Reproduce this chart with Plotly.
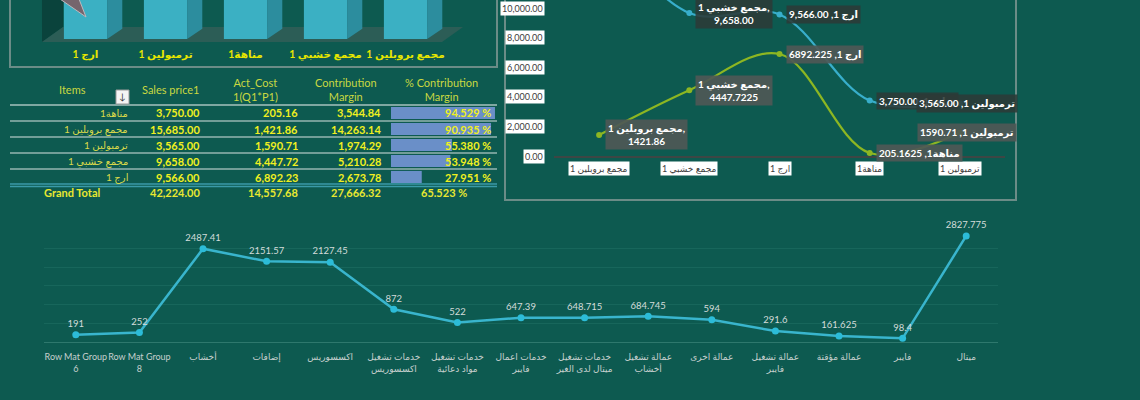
import plotly.graph_objects as go

W, H = 1140, 400
BG = "#0D5A50"
FONT = "Lato, 'Open Sans', 'DejaVu Sans', sans-serif"

# ---------------- data ----------------
bar3d_categories = ["ارج 1", "ترمبولين 1", "مناهة1", "مجمع خشبي 1", "مجمع بروبلين 1"]
bar3d_values = [9566.00, 3565.00, 3750.00, 9658.00, 15685.00]

table_headers = ["Items", "Sales price1", "Act_Cost<br>1(Q1*P1)",
                 "Contribution<br>Margin", "% Contribution<br>Margin"]
table_items = ["مناهة1", "مجمع بروبلين 1", "ترمبولين 1", "مجمع خشبي 1", "ارج 1"]
table_sales_price = [3750.00, 15685.00, 3565.00, 9658.00, 9566.00]
table_act_cost = [205.16, 1421.86, 1590.71, 4447.72, 6892.23]
table_contribution = [3544.84, 14263.14, 1974.29, 5210.28, 2673.78]
table_pct_contribution = [94.529, 90.935, 55.380, 53.948, 27.951]
total_label = "Grand Total"
total_sales_price = 42224.00
total_act_cost = 14557.68
total_contribution = 27666.32
total_pct_contribution = 65.523

line_categories = ["مجمع بروبلين 1", "مجمع خشبي 1", "ارج 1", "مناهة1", "ترمبولين 1"]
line_sales_price = [15685.00, 9658.00, 9566.00, 3750.00, 3565.00]
line_act_cost = [1421.86, 4447.7225, 6892.225, 205.1625, 1590.71]
line_y_ticks = [0, 2000, 4000, 6000, 8000, 10000]

group_labels = ["Row Mat Group<br>6", "Row Mat Group<br>8", "أخشاب", "إضافات", "اكسسوريس",
                "خدمات تشغيل<br>اكسسوريس", "خدمات تشغيل<br>مواد دعائية", "خدمات اعمال<br>فايبر",
                "خدمات تشغيل<br>ميتال لدى الغير", "عمالة تشغيل<br>أخشاب", "عمالة اخرى",
                "عمالة تشغيل<br>فايبر", "عمالة مؤقتة", "فايبر", "ميتال"]
group_values = [191, 252, 2487.41, 2151.57, 2127.45, 872, 522, 647.39, 648.715,
                684.745, 594, 291.6, 161.625, 98.4, 2827.775]


# ---------------- helpers ----------------
def X(px):
    return px / W


def Y(py):
    return 1 - py / H


def path_px(points):
    return "M " + " L ".join(f"{X(a):.5f},{Y(b):.5f}" for a, b in points) + " Z"


fig = go.Figure()

# ---------------- bottom line chart ----------------
gx = list(range(len(group_values)))
fig.add_trace(go.Scatter(
    x=gx, y=group_values, mode="lines+markers+text",
    text=[f"{v:.10g}" for v in group_values], textposition="top center",
    textfont=dict(color="#D3DCDA", size=9.5, family=FONT),
    line=dict(color="#39B5CD", width=2.5), marker=dict(color="#2CBCD8", size=7),
    xaxis="x", yaxis="y", cliponaxis=False, hoverinfo="skip", showlegend=False))

# ---------------- top-right line chart ----------------
lx = list(range(len(line_categories)))
for vals, color in ((line_sales_price, "#38AECB"), (line_act_cost, "#8DB622")):
    fig.add_trace(go.Scatter(
        x=lx, y=vals, mode="lines+markers",
        line=dict(color=color, width=2.2, shape="spline", smoothing=1),
        marker=dict(color=color, size=6),
        xaxis="x2", yaxis="y2", hoverinfo="skip", showlegend=False))

# ---------------- top-left 3D bars ----------------
bx = list(range(len(bar3d_values)))
fig.add_trace(go.Bar(
    x=bx, y=bar3d_values, width=0.54,
    marker=dict(color="#3BB0C3", line=dict(width=0)),
    xaxis="x3", yaxis="y3", hoverinfo="skip", showlegend=False))
depth = 260
sx, sy = [], []
for i, v in enumerate(bar3d_values):
    x0 = i + 0.27
    x1 = x0 + 0.19
    sx += [x0, x1, x1, x0, x0, None]
    sy += [0, depth, v + depth, v, 0, None]
fig.add_trace(go.Scatter(
    x=sx, y=sy, mode="lines", fill="toself", fillcolor="#2C8D9E",
    line=dict(width=0, color="#2C8D9E"),
    xaxis="x3", yaxis="y3", hoverinfo="skip", showlegend=False))

# ---------------- table data bars ----------------
fig.add_trace(go.Bar(
    x=table_pct_contribution, y=list(range(len(table_pct_contribution))), orientation="h",
    width=0.76, marker=dict(color="#6A8FC8", line=dict(width=0)),
    xaxis="x4", yaxis="y4", hoverinfo="skip", showlegend=False))

off = dict(showgrid=False, zeroline=False, showticklabels=False, showline=False, fixedrange=True)

fig.update_layout(
    width=W, height=H, margin=dict(l=0, r=0, t=0, b=0),
    paper_bgcolor=BG, plot_bgcolor="rgba(0,0,0,0)",
    font=dict(family=FONT),
    showlegend=False,
    xaxis=dict(domain=[X(44), X(998)], range=[-0.5, 14.5], tickvals=gx, ticktext=group_labels,
               tickangle=0,
               showline=True, linecolor="#2E786D", linewidth=1, showgrid=False, zeroline=False,
               tickfont=dict(color="#C6D0CE", size=9, family=FONT), ticks="",
               ticklabelstandoff=6, anchor="y", fixedrange=True),
    yaxis=dict(domain=[Y(342), Y(229.5)], range=[0, 3000], dtick=500, showgrid=True,
               gridcolor="#17665B", gridwidth=1, showticklabels=False, zeroline=False,
               anchor="x", fixedrange=True),
    xaxis2=dict(domain=[X(554), X(1005)], range=[-0.5, 4.5], showline=True, linecolor="#3D4644",
                linewidth=2, showticklabels=False, showgrid=False, zeroline=False, anchor="y2",
                fixedrange=True),
    yaxis2=dict(domain=[Y(156), 1], range=[0, 156 / 14.8 * 1000], anchor="x2", **off),
    xaxis3=dict(domain=[X(45.5), X(445.5)], range=[-0.5, 4.5], tickvals=bx, ticktext=bar3d_categories,
                tickangle=0,
                tickfont=dict(color="#E6E600", size=10.5, family=FONT, weight="bold"), ticks="",
                showgrid=False, zeroline=False, showline=False, ticklabelstandoff=7,
                anchor="y3", fixedrange=True),
    yaxis3=dict(domain=[Y(39), 1], range=[0, 1000], anchor="x3", **off),
    xaxis4=dict(domain=[X(391), X(501)], range=[0, 100], anchor="y4", **off),
    yaxis4=dict(domain=[Y(185), Y(105)], range=[4.5, -0.5], anchor="x4", **off),
)

shapes = []
# 3D chart wall & floor
shapes.append(dict(type="path", xref="paper", yref="paper", layer="below",
                   path=path_px([(42, 42), (42, -2), (63, -2), (63, 27)]),
                   fillcolor="#0A433C", line=dict(width=0)))
shapes.append(dict(type="path", xref="paper", yref="paper", layer="below",
                   path=path_px([(42, 42), (63, 27), (463, 27), (442, 42)]),
                   fillcolor="#2C5D56", line=dict(width=0)))
shapes.append(dict(type="path", xref="paper", yref="paper", layer="above",
                   path=path_px([(60, -1), (86, 17), (79, -1)]),
                   fillcolor="#75656D", line=dict(width=1, color="#C0B8BC")))
# frames
for x0, y0, x1, y1 in ((10, -5, 497, 67), (505, -5, 1016, 200)):
    shapes.append(dict(type="rect", xref="paper", yref="paper", x0=X(x0), x1=X(x1),
                       y0=Y(y1), y1=Y(y0), line=dict(color="#6B8C87", width=2),
                       fillcolor="rgba(0,0,0,0)"))
# table lines
shapes.append(dict(type="line", xref="paper", yref="paper", x0=X(10), x1=X(497), y0=Y(105), y1=Y(105),
                   line=dict(color="#7FA8A2", width=2)))
for yy in (121, 137, 153, 169):
    shapes.append(dict(type="line", xref="paper", yref="paper", x0=X(10), x1=X(497), y0=Y(yy), y1=Y(yy),
                       line=dict(color="#D8E2E0", width=1)))
for yy in (184, 186.5):
    shapes.append(dict(type="line", xref="paper", yref="paper", x0=X(10), x1=X(497), y0=Y(yy), y1=Y(yy),
                       line=dict(color="#3A9AA8", width=1.5)))
# filter button
shapes.append(dict(type="rect", xref="paper", yref="paper", x0=X(116), x1=X(129), y0=Y(104), y1=Y(90),
                   fillcolor="#F4F4F4", line=dict(color="#9A9A9A", width=1)))

ann = []
HEADER_C = "#C9D841"
VAL_C = "#F0F020"
ITEM_C = "#D8D84A"

# table header
ann.append(dict(text="↓", x=X(122.5), y=Y(97), xref="paper", yref="paper", showarrow=False,
                font=dict(size=9, color="#333333"), xanchor="center", yanchor="middle"))
header_x = [72, 171, 255, 346, 441]
for txt, hx in zip(table_headers, header_x):
    ann.append(dict(text=txt, x=X(hx), y=Y(90), xref="paper", yref="paper", showarrow=False,
                    font=dict(size=11, color=HEADER_C, family=FONT), xanchor="center",
                    yanchor="middle", align="center"))

# table rows
col_right = [130, 202, 300, 383, 493]
for r in range(len(table_items)):
    ry = 113 + 16 * r
    cells = [table_items[r], f"{table_sales_price[r]:,.2f}", f"{table_act_cost[r]:,.2f}",
             f"{table_contribution[r]:,.2f}", f"{table_pct_contribution[r]:.3f} %"]
    for c, (txt, cx) in enumerate(zip(cells, col_right)):
        ann.append(dict(text=txt if c == 0 else f"<b>{txt}</b>", x=X(cx), y=Y(ry), xref="paper",
                        yref="paper", showarrow=False, xanchor="right", yanchor="middle",
                        font=dict(size=11 if c else 10, color=ITEM_C if c == 0 else VAL_C, family=FONT)))

# grand total
tot_cells = [(total_label, 72, "center"), (f"{total_sales_price:,.2f}", 202, "right"),
             (f"{total_act_cost:,.2f}", 300, "right"), (f"{total_contribution:,.2f}", 383, "right"),
             (f"{total_pct_contribution:.3f} %", 444, "center")]
for txt, cx, anc in tot_cells:
    ann.append(dict(text=f"<b>{txt}</b>", x=X(cx), y=Y(193), xref="paper", yref="paper",
                    showarrow=False, xanchor=anc, yanchor="middle",
                    font=dict(size=11, color="#E8E830", family=FONT)))

# top-right y tick labels
ymax2 = 156 / 14.8 * 1000
for t in line_y_ticks:
    ann.append(dict(text=f"{t:,.2f}", x=X(545), y=t, xref="paper", yref="y2", showarrow=False,
                    xanchor="right", yanchor="middle", bgcolor="#FFFFFF", borderpad=1,
                    font=dict(size=9, color="#404040", family=FONT)))
# top-right x tick labels
for i, c in enumerate(line_categories):
    ann.append(dict(text=c, x=i, y=0, xref="x2", yref="y2", yshift=-12, showarrow=False,
                    xanchor="center", yanchor="middle", bgcolor="#FFFFFF", borderpad=1,
                    font=dict(size=9, color="#404040", family=FONT)))

# top-right data labels
label_specs = [(line_sales_price, True, "rgba(44,58,55,0.88)"), (line_act_cost, False, "rgba(78,88,86,0.92)")]
order = [(1, 0), (1, 1), (1, 2), (0, 3), (1, 3), (0, 1), (0, 2), (0, 4), (1, 4)]
for s, i in order:
    vals, fmt_commas, bg = label_specs[s]
    v = vals[i]
    if v > ymax2:
        continue
    vs = f"{v:,.2f}" if fmt_commas else f"{v:.10g}"
    cat = line_categories[i]
    sep = ",<br>" if "مجمع" in cat else ", "
    last = i == len(line_categories) - 1
    ann.append(dict(text=f"<b>{cat}{sep}{vs}</b>", x=i, y=v, xref="x2", yref="y2", showarrow=False,
                    xanchor="center" if last else "left", xshift=7 if last else 6,
                    yanchor="middle", bgcolor=bg, borderpad=2, align="center",
                    font=dict(size=10, color="#FFFFFF", family=FONT)))

fig.update_layout(shapes=shapes, annotations=ann)
fig.write_html("out.html")
